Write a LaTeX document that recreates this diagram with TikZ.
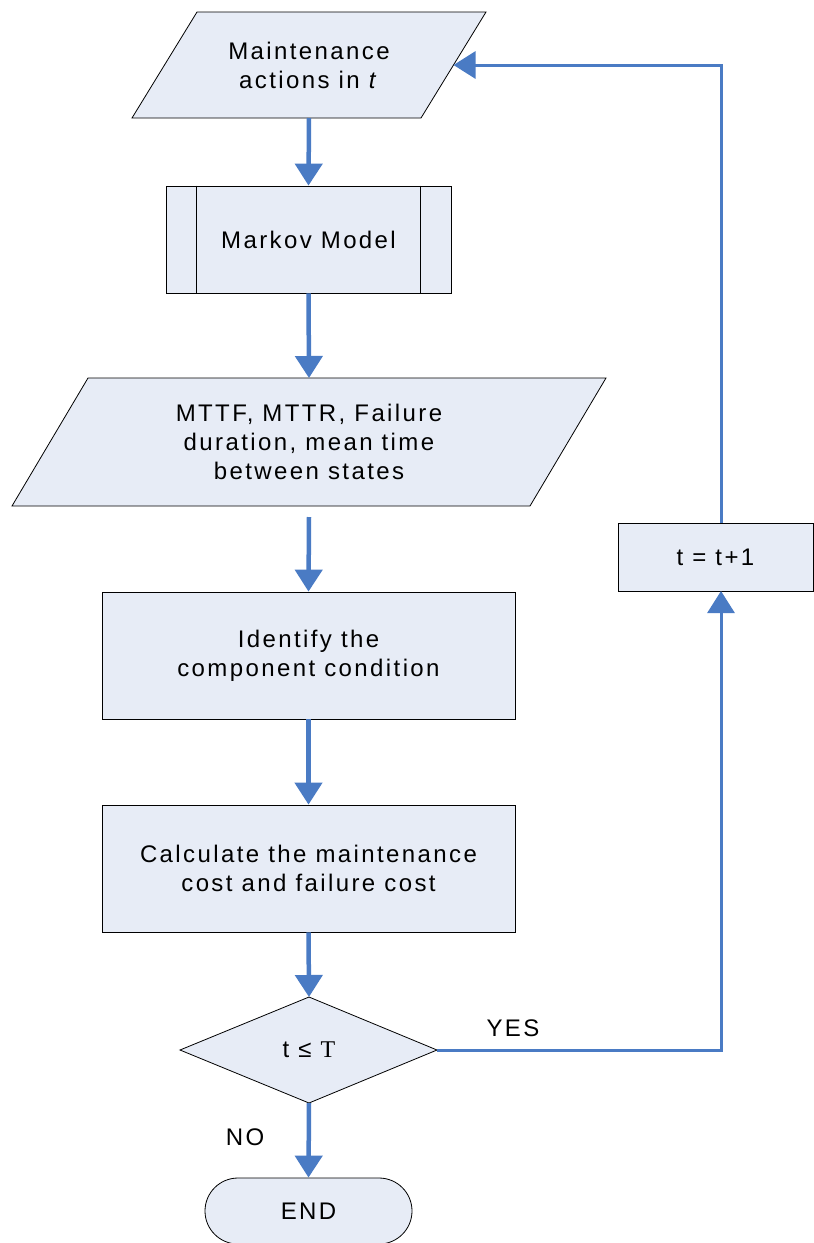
\documentclass[tikz,border=0pt]{standalone}
\usepackage{fontspec}
\setmainfont{Liberation Sans}[LetterSpace=10]
\newfontfamily\serifT{Liberation Serif}
\usetikzlibrary{arrows.meta}
\definecolor{boxfill}{HTML}{E7ECF6}
\definecolor{linkblue}{HTML}{4A7BC4}
\begin{document}
\begin{tikzpicture}[x=1pt,y=-1pt,
  outl/.style={draw=black, line width=0.8pt, fill=boxfill},
  txt/.style={align=center, font=\fontsize{24}{29}\selectfont, inner sep=0pt},
  flowbox/.style={outl, rectangle, inner sep=0pt, align=center, font=\fontsize{24}{29}\selectfont},
  flow/.style={draw=linkblue, line width=4.5pt, -{Triangle[length=22pt,width=27pt]}},
  loop/.style={draw=linkblue, line width=3pt, -{Triangle[length=22pt,width=27pt]}},
  lbl/.style={font=\fontsize{24}{29}\selectfont, inner sep=0pt}]
\useasboundingbox (0,0) rectangle (814,1243);

% input parallelogram
\draw[outl] (197,12) -- (486,12) -- (421,118) -- (132,118) -- cycle;
\node[txt] (act) at (309,65) {Maintenance\\actions in \textit{t}};
\coordinate (actB) at (309,118);
\coordinate (actR) at (453.5,65);

% Markov model (predefined process)
\node[flowbox, minimum width=285, minimum height=107] (mm) at (308.5,239.5) {Markov Model};
\draw[black, line width=0.8pt] ([xshift=31]mm.north west) -- ([xshift=31]mm.south west);
\draw[black, line width=0.8pt] ([xshift=-31]mm.north east) -- ([xshift=-31]mm.south east);

% second parallelogram
\draw[outl] (88,378) -- (606,378) -- (530,506) -- (12,506) -- cycle;
\node[txt] (dur) at (309,442) {MTTF, MTTR, Failure\\duration, mean time\\between states};
\coordinate (durT) at (309,378);
\coordinate (durB) at (309,517);

% process boxes
\node[flowbox, minimum width=413, minimum height=127] (cond) at (308.5,655.5) {Identify the\\component condition};
\node[flowbox, minimum width=413, minimum height=127] (cost) at (308.5,868.5) {Calculate the maintenance\\cost and failure cost};

% decision
\draw[outl] (309,997) -- (437,1050) -- (309,1103) -- (180,1050) -- cycle;
\node[txt] (dec) at (309,1050) {t ≤ {\serifT T}};
\coordinate (decT) at (309,997);
\coordinate (decB) at (309,1103);
\coordinate (decR) at (437,1050);

% terminal
\node[flowbox, rounded corners=33, minimum width=207, minimum height=66] (end) at (308.5,1211) {END};

% increment
\node[flowbox, minimum width=195, minimum height=68] (inc) at (715.5,557) {t = t+1};
\coordinate (incT) at (721,523);
\coordinate (incB) at (721,591);
\coordinate (yesC) at (721,1050);
\coordinate (topC) at (721,65);

% connectors
\draw[flow] (actB) -- (mm.north);
\draw[flow] (mm.south) -- (durT);
\draw[flow] (durB) -- (cond.north);
\draw[flow] (cond.south) -- (cost.north);
\draw[flow] (cost.south) -- (decT);
\draw[flow] (decB) -- (end.north);
\draw[loop] (decR) -- (yesC) -- (incB);
\draw[loop] (incT) -- (topC) -- (actR);

% labels
\node[lbl] (yes) at (513,1028) {YES};
\node[lbl] (no) at (245,1137) {NO};
\end{tikzpicture}
\end{document}
